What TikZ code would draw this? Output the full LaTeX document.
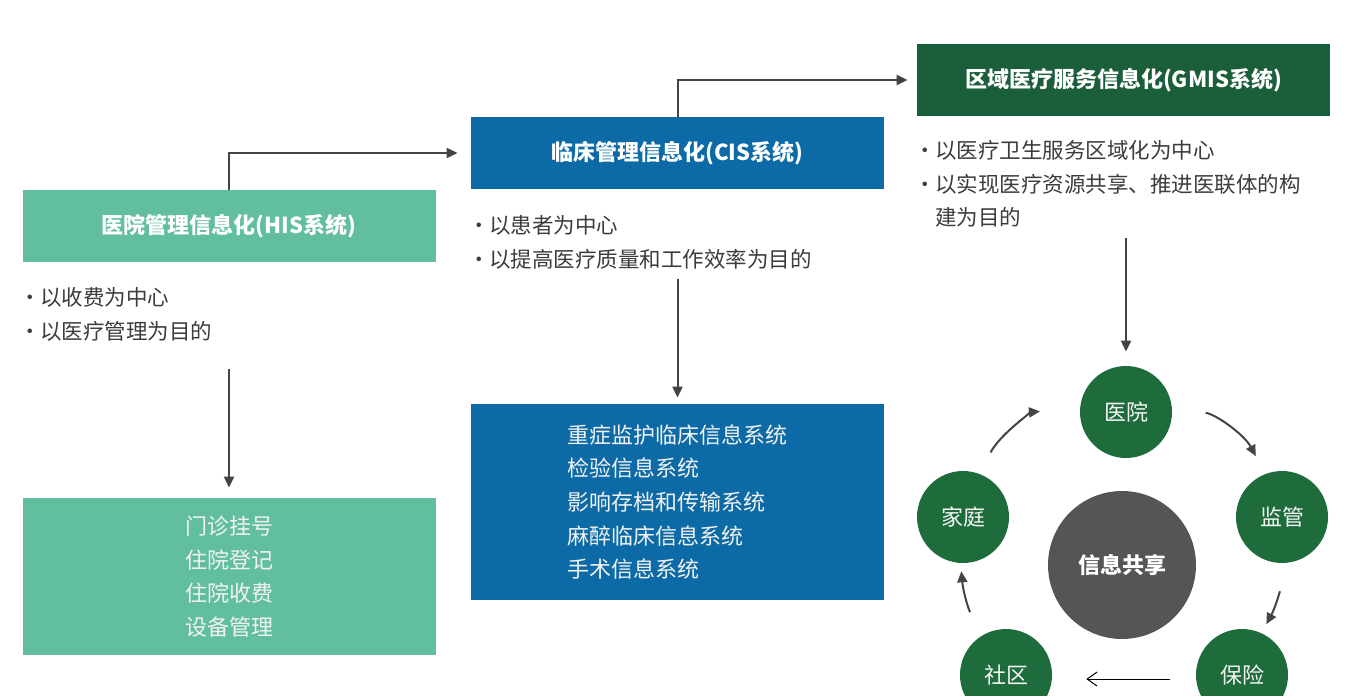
\documentclass[tikz,border=0pt]{standalone}
\usepackage{fontspec}
\setmainfont{Noto Sans CJK SC}
\usetikzlibrary{positioning,arrows.meta}
\definecolor{hisgreen}{RGB}{98,190,160}
\definecolor{cisblue}{RGB}{12,106,166}
\definecolor{gmisgreen}{RGB}{27,94,58}
\definecolor{ringgreen}{RGB}{30,108,60}
\definecolor{hubgray}{RGB}{85,85,85}
\definecolor{linegray}{RGB}{68,68,68}
\definecolor{notegray}{RGB}{60,60,60}
\newcommand{\bul}{\makebox[8pt][l]{\hspace*{-2.5pt}·}}
\tikzset{
  % --- stage headers, notes and lists ----------------------------------------
  head/.style={rectangle,minimum width=206.5pt,minimum height=36pt,inner sep=0pt,
               text=white,font=\fontsize{11}{14}\selectfont\bfseries},
  listbox/.style={rectangle,minimum width=206.5pt,inner sep=0pt,align=left,
                  text=white!90!gray,font=\fontsize{11}{16.8}\selectfont},
  note/.style={anchor=north west,align=left,inner sep=0pt,text=notegray,
               font=\fontsize{10.75}{16.8}\selectfont},
  % --- sharing ring -----------------------------------------------------------
  party/.style={circle,fill=ringgreen,minimum size=46pt,inner sep=0pt,
                text=white!92!gray,font=\fontsize{11}{13}\selectfont},
  hub/.style={circle,fill=hubgray,minimum size=74pt,inner sep=0pt,
              text=white,font=\fontsize{11}{13}\selectfont\bfseries},
  % --- arrows -----------------------------------------------------------------
  ar/.style={-{Triangle[length=5.5pt,width=5pt]},linegray,line width=1pt},
  back/.style={-{Straight Barb[length=5pt,width=7pt]},black,line width=0.5pt},
}

\begin{document}
\begin{tikzpicture}[x=0.5pt,y=-0.5pt]
  \clip (0,0) rectangle (1360,696);
  \fill[white] (0,0) rectangle (1360,696);

  % three stages
  \node[head,fill=hisgreen]  (his)  at (229,226)    {医院管理信息化(HIS系统)};
  \node[head,fill=cisblue]   (cis)  at (677.5,153)  {临床管理信息化(CIS系统)};
  \node[head,fill=gmisgreen] (gmis) at (1123.5,80)  {区域医疗服务信息化(GMIS系统)};

  \node[note] (hisnote)  at (24,287)  {\bul{}以收费为中心\\\bul{}以医疗管理为目的};
  \node[note] (cisnote)  at (473,215) {\bul{}以患者为中心\\\bul{}以提高医疗质量和工作效率为目的};
  \node[note] (gmisnote) at (919,140)
       {\bul{}以医疗卫生服务区域化为中心\\\bul{}以实现医疗资源共享、推进医联体的构\\\hspace*{8pt}建为目的};

  \node[listbox,fill=hisgreen,minimum height=78.5pt] (hislist) at (229,576.5)
       {门诊挂号\\住院登记\\住院收费\\设备管理};
  \node[listbox,fill=cisblue,minimum height=98pt] (cislist) at (677.5,502)
       {\parbox{110pt}{重症监护临床信息系统\\检验信息系统\\影响存档和传输系统\\麻醉临床信息系统\\手术信息系统}};

  \draw[ar,shorten >=6.5pt] (his.north) |- (cis.west);
  \draw[ar,shorten >=4.5pt] (cis.north) |- (gmis.west);
  \draw[ar,shorten <=14pt,shorten >=5pt] (hislist.north |- hisnote.south) -- (hislist.north);
  \draw[ar,shorten <=5pt,shorten >=3pt] (cislist.north |- cisnote.south) -- (cislist.north);

  % sharing ring
  \node[party] (hosp) at (1126,412) {医院};
  \node[party] (sup)  at (1282,517) {监管};
  \node[party] (ins)  at (1242,675) {保险};
  \node[party] (comm) at (1006,675) {社区};
  \node[party] (fam)  at (963,517)  {家庭};
  \node[hub]   (share) at (1122,565) {信息共享};

  \draw[ar,shorten <=5pt,shorten >=7pt] (hosp.north |- gmisnote.south) -- (hosp.north);

  \draw[ar,shorten <=12pt,shorten >=20pt] (fam.70) to[bend left=28] (hosp.175);
  \draw[ar,shorten <=17pt,shorten >=10pt] (hosp.6) to[bend left=26] (sup.111);
  \draw[ar,shorten <=14pt,shorten >=5pt] (sup.270) to[bend left=12] (ins.65);
  \draw[back,shorten <=13pt,shorten >=17pt] (ins.185) -- (comm.355);
  \draw[ar,shorten <=13pt,shorten >=4pt] (comm.120) to[bend left=12] (fam.267);
\end{tikzpicture}
\end{document}
